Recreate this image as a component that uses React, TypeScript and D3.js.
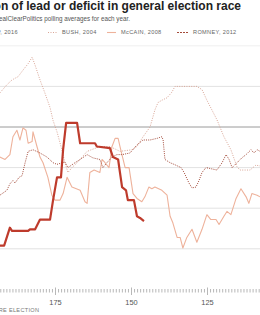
import React from "react";
import * as d3 from "d3";

const TRUMP_DAYS = [193.3,191.9,190.0,189.3,184.0,183.4,181.7,180.1,176.8,175.8,174.5,173.2,172.5,171.5,167.9,166.9,162.0,161.4,157.1,156.1,154.4,153.8,153.1,151.8,151.2,149.2,148.2,147.2,145.9];
const TRUMP_VALUES = [-7.3,-7.3,-6.2,-6.4,-6.4,-6.3,-6.3,-5.7,-5.7,-4.5,-3.1,-3.1,-1.4,0.25,0.25,-1.0,-1.0,-1.2,-1.3,-1.85,-2.0,-2.8,-3.7,-3.9,-4.5,-4.5,-5.5,-5.6,-5.8];

const BUSH_DAYS = [193.3,191.0,189.3,188.3,187.3,185.7,184.0,182.7,181.7,180.1,178.5,176.8,175.8,174.5,172.9,171.9,170.9,169.6,167.9,164.6,160.4,157.1,153.8,149.8,148.2,146.2,143.9,142.3,141.3,140.0,138.3,136.7,135.7,128.5,126.8,125.2,121.9,119.6,117.3,115.3,114.3,111.0,109.1,107.7];
const BUSH_VALUES = [2.1,2.6,2.9,3.0,3.1,3.5,3.9,4.3,3.8,2.9,2.1,1.2,0.4,-0.3,-1.4,-2.2,-2.8,-2.5,-2.2,-1.5,-1.2,-1.2,-1.5,-1.4,-1.2,-0.6,0,1.05,1.5,1.65,1.8,2.15,2.5,2.5,2.3,1.65,0.45,-0.6,-1.4,-2.45,-2.65,-2.65,-2.35,-2.4];

const MCCAIN_DAYS = [193.3,191.6,190.0,189.0,187.7,186.7,185.7,184.7,184.0,182.7,182.4,181.1,180.1,179.1,177.5,176.2,175.2,173.5,172.5,171.2,169.6,166.9,165.3,164.6,163.7,162.3,160.4,159.7,158.7,157.4,156.4,155.4,154.4,153.8,152.1,150.8,149.5,148.2,146.6,145.6,144.3,143.3,142.3,140.0,138.3,137.3,136.4,135.0,134.0,133.1,131.8,130.1,128.5,126.8,125.2,123.9,122.2,121.2,119.6,118.6,117.3,115.6,114.0,112.3,111.4,110.4,108.7,107.7];
const MCCAIN_VALUES = [-1.85,-2.0,-1.7,-0.6,-0.2,-0.8,-0.05,-0.2,-1.0,-0.9,-0.3,-1.2,-1.85,-2.2,-3.1,-4.2,-4.5,-4.5,-4.1,-3.1,-3.7,-3.9,-4.6,-4.7,-2.8,-2.65,-2.8,-2.0,-2.2,-2.5,-1.2,-0.7,-0.7,-1.2,-2.5,-2.5,-4.1,-4.4,-4.6,-4.3,-3.7,-3.8,-3.7,-3.9,-4.2,-5.5,-5.9,-6.8,-6.8,-7.45,-6.8,-6.3,-7.1,-6.3,-5.4,-5.7,-5.7,-6.0,-5.5,-5.2,-5.4,-4.4,-3.8,-4.3,-4.7,-4.1,-4.2,-4.3];

const ROMNEY_DAYS = [193.3,191.0,190.0,189.0,188.3,187.0,186.0,185.0,184.0,182.4,180.1,177.8,175.8,174.5,171.9,170.9,168.6,166.9,164.6,162.7,160.4,159.4,158.1,156.4,154.8,153.1,150.5,148.2,146.2,143.9,141.6,140.0,139.6,139.0,137.3,136.0,133.7,132.7,131.1,130.1,128.8,127.8,126.8,125.5,121.9,120.2,118.9,117.9,116.9,115.3,113.7,112.3,110.7,109.7,108.7,107.7];
const ROMNEY_VALUES = [-4.2,-3.9,-3.5,-3.3,-3.45,-3.1,-3.0,-2.2,-1.5,-1.4,-1.6,-1.85,-2.2,-2.3,-2.15,-2.5,-2.2,-2.0,-1.7,-1.9,-2.0,-2.5,-2.2,-1.85,-1.7,-1.7,-1.6,-1.1,-0.8,-0.8,-0.7,-0.6,-0.8,-2.0,-2.2,-2.3,-2.5,-2.8,-3.45,-3.75,-3.7,-3.3,-2.8,-2.5,-2.65,-2.2,-1.7,-2.0,-2.5,-2.2,-1.9,-1.7,-1.4,-1.6,-1.4,-1.5];

const GRID_VALUES = [5, 2.5, -2.5, -5, -7.5];
const ZERO_VALUE = 0;
const X_TICK_LABELS = [175, 150, 125];
const LEGEND_LABELS = ["TRUMP, 2016", "BUSH, 2004", "McCAIN, 2008", "ROMNEY, 2012"];
const TITLE = "Position of lead or deficit in general election race";
const SUBTITLE = "Based on RealClearPolitics polling averages for each year.";
const X_AXIS_TITLE = "DAYS BEFORE ELECTION";

const C_TRUMP = "#be3b2c";
const C_BUSH = "#d9a596";
const C_MCCAIN = "#eeb29b";
const C_ROMNEY = "#a44b3a";

export default function App() {
  const W = 260, H = 315;
  const x = d3.scaleLinear().domain([175, 125]).range([55.5, 207.5]);
  const y = d3.scaleLinear().domain([0, 5]).range([127, 45.8]);
  const mk = (days: number[], vals: number[]) =>
    d3.line<number>().x((_, i) => x(days[i])).y((v) => y(v))(vals) || "";
  const dayTicks = d3.range(108, 194);
  const font = "'Liberation Sans', Arial, sans-serif";
  return (
    <svg width={W} height={H} style={{ position: "absolute", left: 0, top: 0, background: "#fff" }} fontFamily={font}>
      <text x={241} y={10} textAnchor="end" fontSize={12} fontWeight="bold" fill="#222">{TITLE}</text>
      <text x={130} y={20.5} textAnchor="end" fontSize={6.3} fill="#555">{SUBTITLE}</text>

      {/* legend */}
      <g fontSize={5.6} fill="#666" letterSpacing={0.35}>
        <line x1={-22} x2={-12} y1={32.5} y2={32.5} stroke={C_TRUMP} strokeWidth={2} />
        <text x={18} y={34.3} textAnchor="end">{LEGEND_LABELS[0]}</text>
        <line x1={48} x2={58} y1={32.5} y2={32.5} stroke={C_BUSH} strokeWidth={1} strokeDasharray="1,1.5" />
        <text x={62} y={34.3}>{LEGEND_LABELS[1]}</text>
        <line x1={107} x2={116} y1={32.5} y2={32.5} stroke={C_MCCAIN} strokeWidth={1.1} />
        <text x={121} y={34.3}>{LEGEND_LABELS[2]}</text>
        <line x1={177} x2={188} y1={32.5} y2={32.5} stroke={C_ROMNEY} strokeWidth={1} strokeDasharray="2,1" />
        <text x={193} y={34.3}>{LEGEND_LABELS[3]}</text>
      </g>

      {/* grid */}
      {GRID_VALUES.map((v) => (
        <line key={v} x1={0} x2={W} y1={y(v)} y2={y(v)} stroke={v === 5 ? "#efefef" : "#e2e2e2"} strokeWidth={1} />
      ))}
      <line x1={0} x2={W} y1={y(ZERO_VALUE)} y2={y(ZERO_VALUE)} stroke="#9a9a9a" strokeWidth={1} />

      {/* series */}
      <path d={mk(BUSH_DAYS, BUSH_VALUES)} fill="none" stroke={C_BUSH} strokeWidth={1} strokeDasharray="1,1.4" />
      <path d={mk(MCCAIN_DAYS, MCCAIN_VALUES)} fill="none" stroke={C_MCCAIN} strokeWidth={1.1} strokeLinejoin="round" />
      <path d={mk(ROMNEY_DAYS, ROMNEY_VALUES)} fill="none" stroke={C_ROMNEY} strokeWidth={1} strokeDasharray="1,1.2" />
      <path d={mk(TRUMP_DAYS, TRUMP_VALUES)} fill="none" stroke={C_TRUMP} strokeWidth={2.2} strokeLinejoin="round" />

      {/* x axis ticks */}
      {dayTicks.map((d) => {
        const major = d % 25 === 0;
        return (
          <line key={d} x1={x(d)} x2={x(d)} y1={major ? 287.5 : 289} y2={major ? 295 : 292.5} stroke="#9a9a9a" strokeWidth={0.7} />
        );
      })}
      {X_TICK_LABELS.map((d) => (
        <text key={d} x={x(d)} y={305} textAnchor="middle" fontSize={7.4} fill="#555">{d}</text>
      ))}
      <text x={39.3} y={311.8} textAnchor="end" fontSize={5.6} letterSpacing={0.3} fill="#777">{X_AXIS_TITLE}</text>
    </svg>
  );
}
